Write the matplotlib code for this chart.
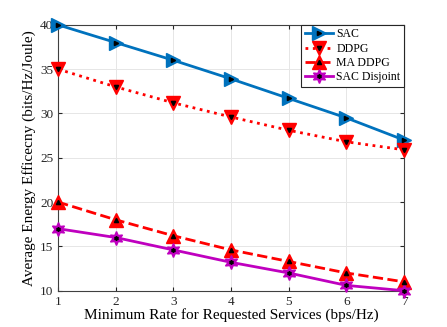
import matplotlib
matplotlib.use("Agg")
import matplotlib.pyplot as plt

plt.rcParams['font.family'] = ['Liberation Serif', 'DejaVu Serif']
plt.rcParams['mathtext.fontset'] = 'stix'

rates = [1, 2, 3, 4, 5, 6, 7]
sac = [40.0, 38.0, 36.0, 33.9, 31.7, 29.5, 27.0]
ddpg = [35.0, 33.0, 31.2, 29.6, 28.1, 26.8, 25.9]
ma_ddpg = [20.0, 18.0, 16.2, 14.6, 13.3, 12.0, 11.0]
sac_disjoint = [17.0, 16.0, 14.6, 13.2, 12.0, 10.6, 10.0]

fig = plt.figure(figsize=(4.47, 3.27), dpi=100)
ax = fig.add_axes([0.130, 0.111, 0.774, 0.813])

blue = '#0072BD'
red = '#FF0000'
mag = '#BF00BF'
hexagram = (6, 1, 0)

series = [
    (sac, 'SAC', blue, '-', '>'),
    (ddpg, 'DDPG', red, ':', 'v'),
    (ma_ddpg, 'MA DDPG', red, '--', '^'),
    (sac_disjoint, 'SAC Disjoint', mag, '-', hexagram),
]

handles = []
for y, name, c, ls, m in series:
    l1, = ax.plot(rates, y, color=c, linestyle=ls, linewidth=2, marker=m,
                  markersize=10, markerfacecolor=c, markeredgecolor=c, clip_on=False, zorder=3)
    l2, = ax.plot(rates, y, linestyle='none', marker=m, markersize=3,
                  color='k', clip_on=False, zorder=4)
    handles.append((l1, l2))

ax.set_xlim(1, 7)
ax.set_ylim(10, 40)
ax.set_xticks(rates)
ax.set_yticks([10, 15, 20, 25, 30, 35, 40])
ax.grid(True, color='#e6e6e6', linewidth=0.7)
ax.set_axisbelow(True)
for s in ax.spines.values():
    s.set_color('#404040')
    s.set_linewidth(0.8)
ax.tick_params(direction='in', top=True, right=True, labelsize=9.5,
               colors='#262626', length=3)

ax.set_xlabel('Minimum Rate for Requested Services (bps/Hz)', fontsize=11, labelpad=0)
ax.set_ylabel('Average Energy Efficecny (bits/Hz/Joule)', fontsize=11, labelpad=3)

leg = ax.legend(handles, [s[1] for s in series], loc='upper right', fontsize=8.5,
                fancybox=False, edgecolor='#262626', framealpha=1, borderpad=0.3,
                labelspacing=0.2, handlelength=2.4, handletextpad=0.3,
                borderaxespad=0)
leg.get_frame().set_linewidth(0.8)

fig.savefig('out.png', dpi=100)
